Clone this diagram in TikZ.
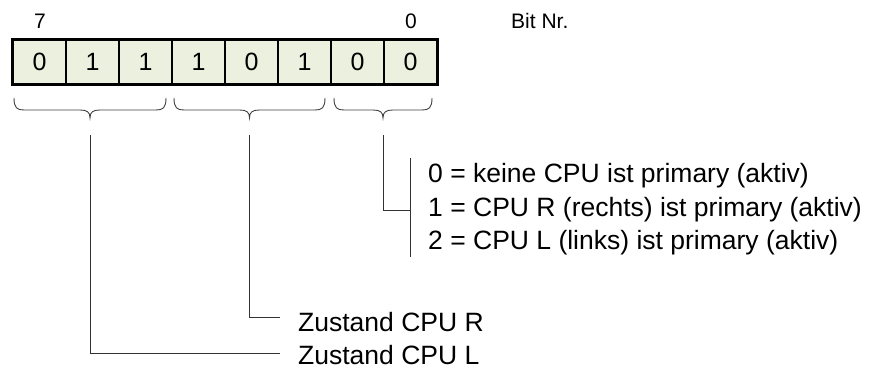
\documentclass[tikz,border=0pt]{standalone}
\usepackage{fontspec}
\setmainfont{Liberation Sans}
\begin{document}
\begin{tikzpicture}[x=1pt,y=-1pt,
  cellbox/.style={draw=black,line width=1.4pt,fill=cellgreen,minimum width=53pt,minimum height=44pt,inner sep=0pt,font=\fontsize{25}{30}\selectfont},
  toplabel/.style={inner sep=0pt,font=\fontsize{21}{25}\selectfont},
  desc/.style={inner sep=0pt,anchor=west,font=\fontsize{26.5}{31}\selectfont},
  brace/.style={draw=black!75,line width=0.9pt},
  link/.style={draw=black!80,line width=0.9pt}]
\definecolor{cellgreen}{HTML}{EBF1DE}
\useasboundingbox (0,0) rectangle (871,372);

% bit cells, bit 7 on the left
\foreach \v [count=\i from 0] in {0,1,1,1,0,1,0,0}{
  \node[cellbox] (c\i) at (39.5+53*\i,62) {\v};
}
\draw[line width=2.4pt] (c0.north west) rectangle (c7.south east);

% bit numbers
\node[toplabel] (b7) at (40,21) {7};
\node[toplabel] (b0) at (411,21) {0};
\node[toplabel,anchor=west] (bitnr) at (511,21) {Bit Nr.};

% braces under the groups of bits
\foreach \a/\b/\n in {14/166/1,174/325/2,334/432/3}{
  \pgfmathsetmacro{\m}{(\a+\b)/2}
  \draw[brace] (\a,98) .. controls (\a,108) and (\a+3,110) .. (\a+10,110)
    -- (\m-10,110) .. controls (\m-3,110) and (\m,112) .. (\m,118)
    .. controls (\m,112) and (\m+3,110) .. (\m+10,110)
    -- (\b-10,110) .. controls (\b-3,110) and (\b,108) .. (\b,98);
  \coordinate (t\n) at (\m,135);
}

% descriptions
\node[desc] (zl) at (298,355) {Zustand CPU L};
\node[desc] (zr) at (298,322) {Zustand CPU R};
\node[desc] (p0) at (428,176) {0 = keine CPU ist primary (aktiv)};
\node[desc] (p1) at (428,210) {1 = CPU R (rechts) ist primary (aktiv)};
\node[desc] (p2) at (428,243) {2 = CPU L (links) ist primary (aktiv)};

% bar grouping the three values
\coordinate (bartop) at (410,158);
\coordinate (barbot) at (410,257);
\draw[link] (bartop) -- (barbot);

% leader lines
\coordinate (e1) at (280,353);
\coordinate (e2) at (280,317);
\coordinate (e3) at (410,210);
\draw[link] (t1) |- (e1);
\draw[link] (t2) |- (e2);
\draw[link] (t3) |- (e3);
\end{tikzpicture}
\end{document}
